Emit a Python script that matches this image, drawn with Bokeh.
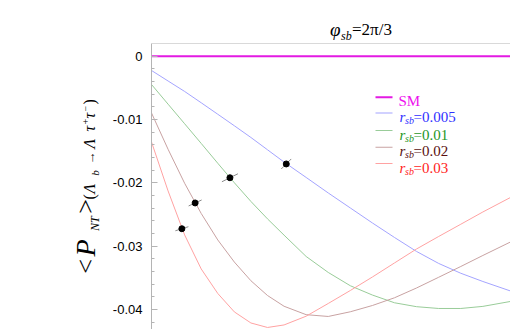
from bokeh.plotting import figure
from bokeh.layouts import row, column
from bokeh.models import (Range1d, FixedTicker, NumeralTickFormatter,
                          Label, BoxAnnotation, Span, Div)
from bokeh.embed import file_html
from bokeh.resources import INLINE

# ---------------- data ----------------
x_grid = [12.6, 12.9, 13.2, 13.5, 13.8, 14.1, 14.4, 14.7, 15.0, 15.4,
          15.8, 16.2, 16.6, 17.0, 17.4, 17.8, 18.2, 18.6, 19.1]
sm = [0.0] * 19
r005 = [-0.00226, -0.00392, -0.00557, -0.00736, -0.00917, -0.01099, -0.01284,
        -0.01478, -0.01672, -0.01915, -0.02160, -0.02397, -0.02634, -0.02863,
        -0.03084, -0.03273, -0.03428, -0.03558, -0.03708]
r01 = [-0.00447, -0.00758, -0.01067, -0.01378, -0.01691, -0.01999, -0.02294,
       -0.02569, -0.02826, -0.03163, -0.03415, -0.03625, -0.03772, -0.03894,
       -0.03956, -0.03984, -0.03984, -0.03951, -0.03873]
r02 = [-0.00897, -0.01470, -0.02007, -0.02484, -0.02902, -0.03251, -0.03546,
       -0.03779, -0.03949, -0.04082, -0.04110, -0.04036, -0.03937, -0.03815,
       -0.03660, -0.03491, -0.03321, -0.03147, -0.02934]
r03 = [-0.01355, -0.02128, -0.02823, -0.03360, -0.03747, -0.04038, -0.04213,
       -0.04284, -0.04244, -0.04106, -0.03905, -0.03700, -0.03487, -0.03265,
       -0.03044, -0.02847, -0.02654, -0.02460, -0.02231]

pts_x = [13.15, 13.39, 14.02, 15.04]
pts_y = [-0.02725, -0.02318, -0.01920, -0.01702]
err_dx = [0.118, 0.118, 0.145, 0.090]
err_dy = [0.00032, 0.00047, 0.00063, 0.00079]

y_major = [0.0, -0.01, -0.02, -0.03, -0.04]
y_minor = [-0.002 * i for i in range(1, 22) if i % 5 != 0]

legend_names = ["SM", "0.005", "0.01", "0.02", "0.03"]
line_colors = ["#e31ae3", "#a4a4ff", "#99cc99", "#c8a2a2", "#ffa2a2"]
text_colors = ["#ee11ee", "#3030ff", "#1f961f", "#5a1010", "#ff1c1c"]

# ---------------- layout geometry (page pixels) ----------------
W, H = 510, 329
LW = 100          # width of the left label strip
FL, FT = 151, 43  # frame left / top on the page
Y_TOP = 0.0020
SERIF = "Liberation Serif"
SERIF_CSS = ("'Liberation Serif','Times New Roman',Times,"
             "'DejaVu Serif',serif")
BASE_K = 0.3375   # baseline offset (em) of a line-height:0 box

# ---------------- main plot ----------------
p = figure(width=W - LW, height=H - FT, output_backend="svg",
           toolbar_location=None,
           x_range=Range1d(12.6, 19.1), y_range=Range1d(-0.04316, Y_TOP),
           x_axis_location=None, min_border_left=FL - LW, min_border_right=0,
           min_border_top=0, min_border_bottom=0)
p.grid.visible = False
p.outline_line_color = None
p.background_fill_color = "white"
p.border_fill_color = "white"

ya = p.yaxis[0]
ya.ticker = FixedTicker(ticks=y_major, minor_ticks=y_minor)
ya.formatter = NumeralTickFormatter(format="0.[00]")
ya.axis_line_color = "#b4b4b4"
ya.major_tick_line_color = "#b4b4b4"
ya.minor_tick_line_color = "#b4b4b4"
ya.major_tick_in = 6
ya.major_tick_out = 0
ya.minor_tick_in = 3
ya.minor_tick_out = 0
ya.major_label_standoff = 9
ya.major_label_text_font = "Liberation Sans"
ya.major_label_text_font_size = "13px"
ya.major_label_text_color = "black"

p.add_layout(Span(location=Y_TOP, dimension="width", line_color="#b4b4b4",
                  line_width=1))

p.line(x_grid, sm, line_color=line_colors[0], line_width=2)
for ys, c in zip([r005, r01, r02, r03], line_colors[1:]):
    p.line(x_grid, ys, line_color=c, line_width=1)

x0 = [a - d for a, d in zip(pts_x, err_dx)]
x1 = [a + d for a, d in zip(pts_x, err_dx)]
y0 = [a - d for a, d in zip(pts_y, err_dy)]
y1 = [a + d for a, d in zip(pts_y, err_dy)]
p.segment(x0, y0, x1, y1, line_color="#8c8c8c", line_width=1)
p.scatter(pts_x, pts_y, size=6, marker="circle", fill_color="black",
          line_color="black")


def msx(px):
    return px - FL


def msy(py):
    return H - py


def lab(fig, text, x, y, size, color="black", style="normal"):
    fig.add_layout(Label(x=x, y=y, x_units="screen", y_units="screen",
                         text=text, text_font=SERIF, text_font_size=f"{size}px",
                         text_font_style=style, text_color=color,
                         text_align="left", text_baseline="alphabetic"))


line_y = [96.7, 112.5, 130, 146.7, 163]
base_y = [100.7, 116.5, 134, 150.5, 167]
for i, name in enumerate(legend_names):
    lw = 2 if i == 0 else 1
    p.add_layout(BoxAnnotation(left=msx(375), right=msx(392),
                               bottom=msy(line_y[i]) - lw / 2,
                               top=msy(line_y[i]) + lw / 2,
                               left_units="screen", right_units="screen",
                               bottom_units="screen", top_units="screen",
                               fill_color=line_colors[i], fill_alpha=1.0,
                               line_color=None))
    if i == 0:
        lab(p, name, msx(398), msy(base_y[i]), 15, color=text_colors[i])
    else:
        lab(p, "r", msx(399), msy(base_y[i]), 15, color=text_colors[i],
            style="italic")
        lab(p, "sb", msx(404.5), msy(base_y[i] + 3.5), 10,
            color=text_colors[i], style="italic")
        lab(p, "=" + name, msx(413), msy(base_y[i]), 15, color=text_colors[i])


# ---------------- HTML text helpers for the strips ----------------
def html_text(txt, x, y, size, style="normal", rot=False):
    off = BASE_K * size
    css = (f"position:absolute;left:{x}px;top:{y - off:.2f}px;"
           f"font-family:{SERIF_CSS};font-size:{size}px;font-style:{style};"
           f"font-weight:normal;line-height:0;white-space:nowrap;"
           f"color:black;margin:0;padding:0;")
    if rot:
        css += f"transform-origin:0px {off:.2f}px;transform:rotate(-90deg);"
    return f'<span style="{css}">{txt}</span>'


def html_box(w, h, parts):
    return (f'<div style="position:relative;width:{w}px;height:{h}px;'
            f'overflow:visible;margin:0;padding:0;font-family:{SERIF_CSS}">'
            + "".join(parts) + '</div>')


strip_styles = {"font-family": SERIF_CSS}

# title strip (coordinates relative to the strip)
title_parts = [html_text("φ", 330 - LW, 36, 19, "italic"),
               html_text("sb", 341 - LW, 40, 12, "italic"),
               html_text("=2π/3", 352 - LW, 36, 17)]
tdiv = Div(text=html_box(W - LW, FT, title_parts), width=W - LW, height=FT,
           margin=0, styles=strip_styles)

# y-label strip (rotated, reading upward)
ylab = [("&lt;", 274, 95, 26, "normal"), ("P", 256, 95, 28, "italic"),
        ("NT", 231, 99, 12, "italic"), ("&gt;", 214, 95, 26, "normal"),
        ("(", 199, 95, 16, "normal"), ("Λ", 193.5, 95, 16, "italic"),
        ("b", 176, 99, 11, "italic"), ("→", 164, 95, 13, "normal"),
        ("Λ", 148, 95, 16, "italic"), ("τ", 131, 95, 16, "italic"),
        ("+", 124, 89, 10, "normal"), ("τ", 118, 95, 16, "italic"),
        ("−", 111, 89, 10, "normal"), (")", 104.5, 95, 16, "normal")]
ylab_parts = [html_text(t, xb, ys, s, st, rot=True)
              for t, ys, xb, s, st in ylab]
ydiv = Div(text=html_box(LW, H, ylab_parts), width=LW, height=H, margin=0,
           styles=strip_styles)

layout = row(ydiv, column(tdiv, p, spacing=0), spacing=0)
open("out.html", "w").write(file_html(layout, INLINE))
